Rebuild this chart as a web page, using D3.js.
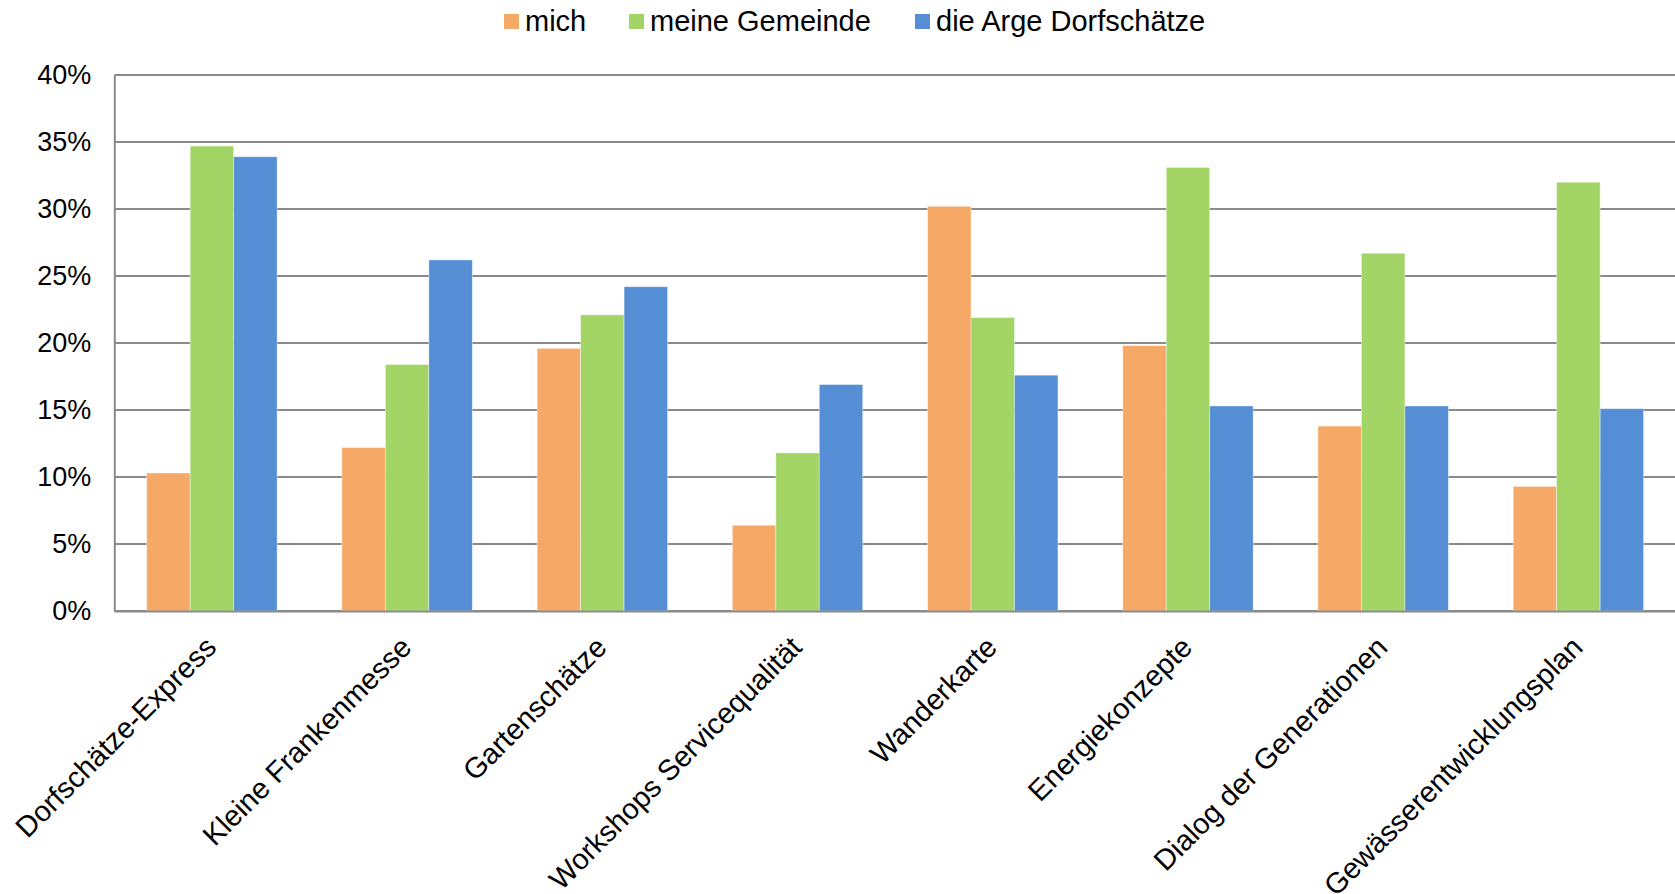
<!DOCTYPE html>
<html>
<head>
<meta charset="utf-8">
<script src="https://cdn.jsdelivr.net/npm/d3@7"></script>
<style>
  html, body { margin: 0; padding: 0; background: #ffffff; }
  svg { display: block; }
  text { font-family: "Liberation Sans", Arial, sans-serif; fill: #000; }
</style>
</head>
<body>
<svg id="chart" width="1675" height="894"></svg>
<script>
const categories = ["Dorfschätze-Express", "Kleine Frankenmesse", "Gartenschätze", "Workshops Servicequalität", "Wanderkarte", "Energiekonzepte", "Dialog der Generationen", "Gewässerentwicklungsplan"];
const seriesNames = ["mich", "meine Gemeinde", "die Arge Dorfschätze"];
const seriesColors = ["#F6A866", "#A2D466", "#558ED5"];
const mich = [10.3, 12.2, 19.6, 6.4, 30.2, 19.8, 13.8, 9.3];
const gemeinde = [34.7, 18.4, 22.1, 11.8, 21.9, 33.1, 26.7, 32.0];
const arge = [33.9, 26.2, 24.2, 16.9, 17.6, 15.3, 15.3, 15.1];
const yTicks = [0, 5, 10, 15, 20, 25, 30, 35, 40];

const seriesValues = [mich, gemeinde, arge];

const svg = d3.select("#chart");
const mLeft = 114.3, mRight = 1676, mTop = 75, mBottom = 611;

const x0 = d3.scaleBand().domain(categories).range([mLeft, mRight]).paddingInner(0.332).paddingOuter(0.166);
const x1 = d3.scaleBand().domain(seriesNames).range([0, x0.bandwidth()]).padding(0);
const y = d3.scaleLinear().domain([0, 40]).range([mBottom, mTop]);

// gridlines
const grid = svg.append("g").attr("class", "grid");
grid.selectAll("line").data(yTicks).join("line")
  .attr("x1", mLeft).attr("x2", mRight)
  .attr("y1", d => y(d)).attr("y2", d => y(d))
  .attr("stroke", "#8A8A8A").attr("stroke-width", 2);

// y axis labels
const yAxis = d3.axisLeft(y).tickValues(yTicks).tickSize(0).tickPadding(23).tickFormat(d => d + "%");
const ya = svg.append("g").attr("transform", `translate(${mLeft},0)`).call(yAxis);
ya.select(".domain").attr("stroke", "#8A8A8A").attr("stroke-width", 2);
ya.selectAll("text").attr("font-size", 27).attr("font-family", '"Liberation Sans", Arial, sans-serif').attr("fill", "#000");

// bars
const groups = svg.append("g").selectAll("g").data(categories).join("g")
  .attr("transform", d => `translate(${x0(d)},0)`);
groups.selectAll("rect")
  .data((c, i) => seriesNames.map((s, j) => ({ s, j, v: seriesValues[j][i] })))
  .join("rect")
  .attr("x", d => x1(d.s))
  .attr("width", x1.bandwidth())
  .attr("y", d => y(d.v))
  .attr("height", d => y(0) - y(d.v))
  .attr("fill", d => seriesColors[d.j])
  .attr("stroke", "#ffffff").attr("stroke-opacity", 0.5).attr("stroke-width", 0.8);

// x axis
const xAxis = d3.axisBottom(x0).tickSize(0).tickPadding(0);
const xa = svg.append("g").attr("transform", `translate(0,${mBottom})`).call(xAxis);
xa.select(".domain").attr("stroke", "#8A8A8A").attr("stroke-width", 2);
xa.selectAll(".tick text")
  .attr("font-size", 29)
  .attr("font-family", '"Liberation Sans", Arial, sans-serif')
  .attr("fill", "#000")
  .attr("text-anchor", "end")
  .attr("dy", null)
  .attr("y", null)
  .attr("transform", "translate(6,38) rotate(-45)");

// legend
const legendX = [504, 629, 915];
const legend = svg.append("g").selectAll("g").data(seriesNames).join("g")
  .attr("transform", (d, i) => `translate(${legendX[i]},0)`);
legend.append("rect").attr("x", 0).attr("y", 14).attr("width", 15).attr("height", 15)
  .attr("fill", (d, i) => seriesColors[i]);
legend.append("text").attr("x", 21).attr("y", 31).attr("font-size", 29).text(d => d);
</script>
</body>
</html>
